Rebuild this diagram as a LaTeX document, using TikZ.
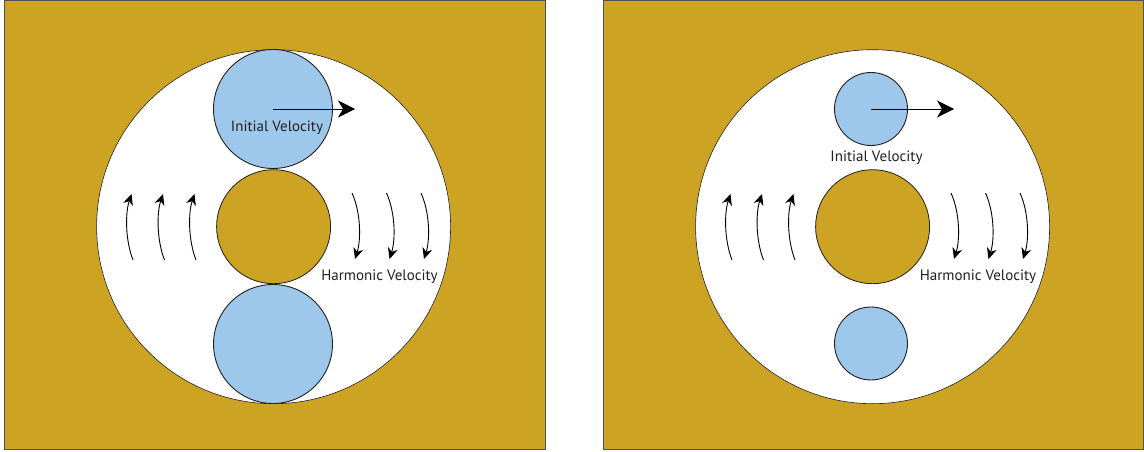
\documentclass[tikz,border=0pt]{standalone}
\usepackage{fontspec}
\setmainfont{PT Sans}
\usetikzlibrary{arrows.meta}
\definecolor{gold}{RGB}{205,163,36}
\definecolor{ball}{RGB}{158,199,236}
\definecolor{ink}{RGB}{35,31,32}
\definecolor{frame}{RGB}{80,80,80}
\tikzset{
  panelbox/.style={fill=gold, draw=frame, line width=0.8pt},
  outerdisk/.style={circle, fill=white, draw=ink, line width=0.6pt, inner sep=0pt, minimum size=354pt},
  coredisk/.style={circle, fill=gold, draw=ink, line width=0.8pt, inner sep=0pt, minimum size=114pt},
  bigball/.style={circle, fill=ball, draw=ink, line width=0.9pt, inner sep=0pt, minimum size=119pt},
  smallball/.style={circle, fill=ball, draw=ink, line width=0.9pt, inner sep=0pt, minimum size=73pt},
  lbl/.style={text=ink, font=\fontsize{15}{17}\selectfont, inner sep=0pt},
  velarrow/.style={draw=black, line width=1pt, -{Stealth[length=17pt, width=17pt, inset=5pt]}},
  flowarrow/.style={draw=black, line width=0.9pt, -{Stealth[length=11pt, width=10pt, inset=3.5pt]}}
}
\begin{document}
\begin{tikzpicture}[x=1pt, y=-1pt]
\useasboundingbox (0,0) rectangle (1144,452);
% ---------- left panel ----------
\path[panelbox] (4,0.6) rectangle (545,449.6);
\node[outerdisk] (Louter) at (273.6,226.7) {};
\node[coredisk] (Lcore) at (273.6,226.7) {};
\node[bigball] (Ltop) at (273,109) {};
\node[bigball] (Lbot) at (273,344) {};
\coordinate (Ltip) at (355,109);
\draw[velarrow] (Ltop.center) -- (Ltip);
\node[lbl] (Linit) at (277,128) {Initial Velocity};
\node[lbl] (Lharm) at (379.5,277) {Harmonic Velocity};
\foreach \dx in {0,31.5,63} {
  \draw[flowarrow] (133+\dx,260) .. controls (125.2+\dx,240) and (125.2+\dx,213) .. (131.5+\dx,194);
}
\foreach \dx in {0,34.5,69} {
  \draw[flowarrow] (352+\dx,193) .. controls (361+\dx,213) and (361+\dx,240) .. (355+\dx,259);
}
% ---------- right panel ----------
\begin{scope}[xshift=599pt]
\path[panelbox] (4,0.6) rectangle (544.6,449.6);
\node[outerdisk] (Router) at (273.6,226.7) {};
\node[coredisk] (Rcore) at (273.6,226.7) {};
\node[smallball] (Rtop) at (272,109) {};
\node[smallball] (Rbot) at (272,343.5) {};
\coordinate (Rtip) at (355,109);
\draw[velarrow] (Rtop.center) -- (Rtip);
\node[lbl] (Rinit) at (277.5,157.5) {Initial Velocity};
\node[lbl] (Rharm) at (379,277) {Harmonic Velocity};
\foreach \dx in {0,31.5,63} {
  \draw[flowarrow] (133+\dx,260) .. controls (125.2+\dx,240) and (125.2+\dx,213) .. (131.5+\dx,194);
}
\foreach \dx in {0,34.5,69} {
  \draw[flowarrow] (352+\dx,193) .. controls (361+\dx,213) and (361+\dx,240) .. (355+\dx,259);
}
\end{scope}
\end{tikzpicture}
\end{document}
